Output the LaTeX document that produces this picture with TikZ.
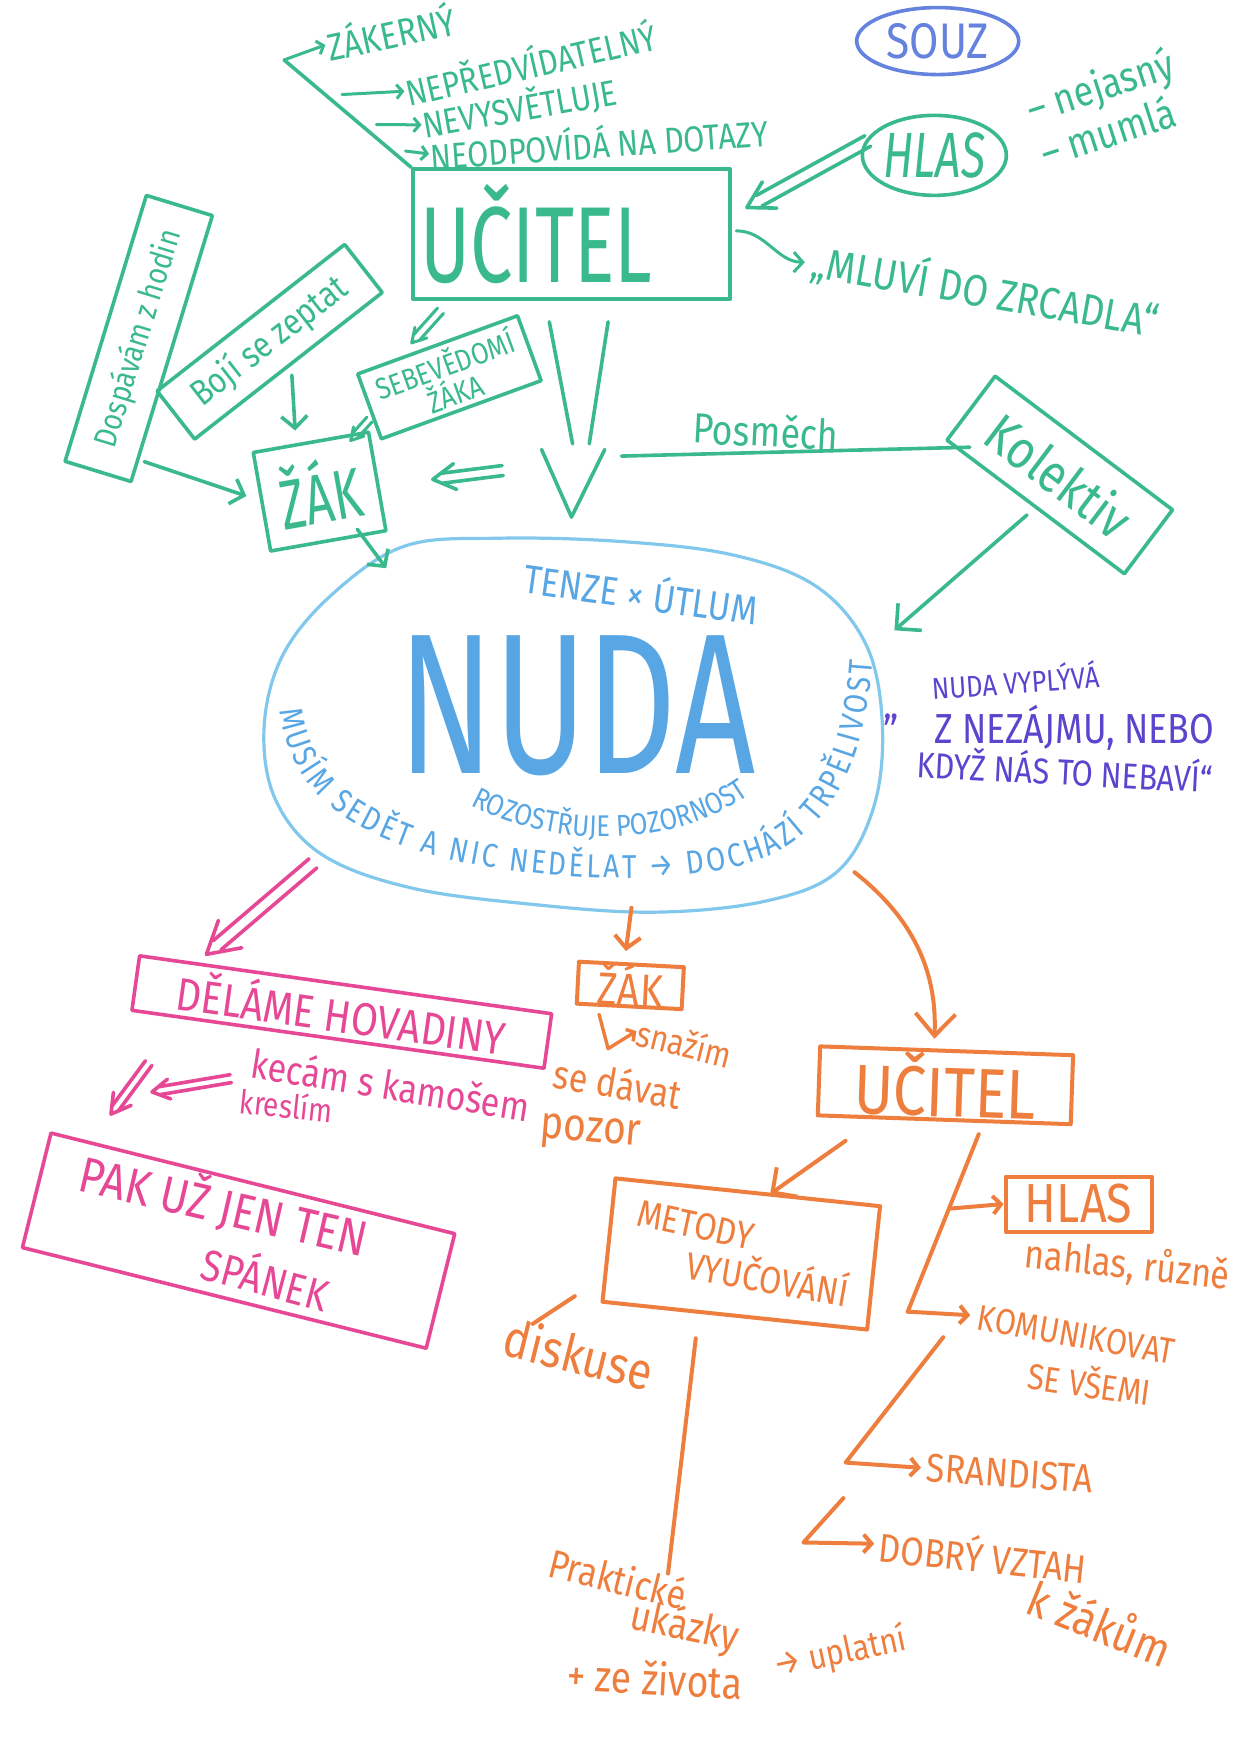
\documentclass[tikz,border=0pt]{standalone}
\usepackage{fontspec}
\setmainfont{Fira Sans}
\newfontfamily\hand[FakeStretch=0.85]{Fira Sans}
\newfontfamily\handn[FakeStretch=0.7]{Fira Sans}
\usetikzlibrary{arrows.meta,calc,shapes.geometric,decorations.text}

\definecolor{mgreen}{RGB}{58,186,140}
\definecolor{mblue}{RGB}{130,200,236}
\definecolor{mbluetxt}{RGB}{88,166,228}
\definecolor{msouz}{RGB}{100,130,222}
\definecolor{mpurple}{RGB}{92,68,206}
\definecolor{mpink}{RGB}{230,72,150}
\definecolor{morange}{RGB}{238,126,62}

\newcommand\hsz[1]{\fontsize{#1}{#1}\selectfont}
% hand-drawn double-shafted arrow: [style]{from}{to}{half gap}{head length}{shaft stop}
\newcommand\twinarrow[6][]{%
  \coordinate (twE) at ($(#3)!#6!(#2)$);
  \draw[#1] ($(#2)!#4!90:(#3)$) -- ($(twE)!#4!-90:(#2)$);
  \draw[#1] ($(#2)!#4!-90:(#3)$) -- ($(twE)!#4!90:(#2)$);
  \draw[#1] ($(#3)!#5!30:(#2)$) -- (#3) -- ($(#3)!#5!-30:(#2)$);
}

\begin{document}
\begin{tikzpicture}[x=1.1094pt, y=-1.1094pt,
  gline/.style={draw=mgreen, line width=3.6pt, line cap=round, line join=round},
  garrow/.style={gline, -{Straight Barb[length=12pt,width=26pt]}},
  gsmall/.style={gline, line width=3pt, -{Straight Barb[length=6pt,width=14pt]}},
  gbox/.style={draw=mgreen, line width=3.6pt, line join=round, text=mgreen, inner sep=0pt},
  gtext/.style={text=mgreen, inner sep=1pt, font=\hand\hsz{36}},
  pline/.style={draw=mpink, line width=3.6pt, line cap=round, line join=round},
  pbox/.style={draw=mpink, line width=3.6pt, line join=round, text=mpink, inner sep=0pt},
  ptext/.style={text=mpink, inner sep=1pt, font=\hand\hsz{34}},
  oline/.style={draw=morange, line width=4pt, line cap=round, line join=round},
  oarrow/.style={oline, -{Straight Barb[length=12pt,width=26pt]}},
  obox/.style={draw=morange, line width=4pt, line join=round, text=morange, inner sep=0pt},
  otext/.style={text=morange, inner sep=1pt, font=\hand\hsz{34}},
  qtext/.style={text=mpurple, inner sep=1pt, font=\hand\hsz{36}},
]
\fill[white] (0,0) rectangle (1115,1568);
\useasboundingbox (0,0) rectangle (1115,1568);

% ================= green: the teacher =================
\node[gbox, minimum width=317pt, minimum height=130pt, font=\handn\hsz{108}] (ucitel) at (515,211) {UČITEL\hspace*{70pt}};

\node[gtext, rotate=12, font=\hand\hsz{38}] (t1) at (352,28) {ZÁKERNÝ};
\node[gtext, rotate=13] (t2) at (478,56) {NEPŘEDVÍDATELNÝ};
\node[gtext, rotate=10] (t3) at (468,97) {NEVYSVĚTLUJE};
\node[gtext, rotate=4] (t4) at (540,128) {NEODPOVÍDÁ NA DOTAZY};
\coordinate (brA) at (256,54);
\coordinate (brB) at (ucitel.north west);
\draw[gline] (brA) -- (brB);
\draw[gsmall] (brA) -- (t1.west);
\draw[gsmall, shorten <=16pt] ($(brA)!0.33!(brB)$) -- (t2.west);
\draw[gsmall, shorten <=16pt] ($(brA)!0.6!(brB)$) -- (t3.west);
\draw[gsmall, shorten <=16pt] ($(brA)!0.83!(brB)$) -- (t4.west);

\node[gtext, rotate=-10, font=\hand\hsz{44}] (mluvi) at (888,262) {„MLUVÍ DO ZRCADLA“};
\draw[gline, line width=3pt, -{Straight Barb[length=9pt,width=20pt]}] ($(ucitel.east)+(4,-3)$) .. controls (690,208) and (700,236) .. ($(mluvi.west)+(-6,2)$);

\node[ellipse, draw=msouz, line width=3.6pt, text=msouz, minimum width=162pt, minimum height=67pt, inner sep=0pt, font=\hand\hsz{50}] (souz) at (845,37) {SOUZ};

\node[ellipse, gbox, minimum width=142pt, minimum height=80pt, font=\handn\itshape\hsz{64}] (hlas) at (842,140) {HLAS};
\node[gtext, rotate=18, font=\hand\hsz{42}] (nej) at (992,80) {– nejasný};
\node[gtext, rotate=18, font=\hand\hsz{42}] (mum) at (998,118) {– mumlá};
\coordinate (hlasW) at (782,127);
\coordinate (ucNE) at (673,187);
\twinarrow[gline]{hlasW}{ucNE}{6pt}{30pt}{14pt}

% ================= green: the pupil =================
\node[gbox, rotate=73, minimum width=278pt, minimum height=69pt, font=\hand\hsz{32}] (dosp) at (125,305) {Dospávám z hodin};
\node[gbox, rotate=38, minimum width=238pt, minimum height=61pt, font=\hand\hsz{36}] (boji) at (243,308) {Bojí se zeptat};
\node[gbox, rotate=20, minimum width=170pt, minimum height=69pt, align=center, font=\hand\hsz{30}] (sebe) at (405,340) {SEBEVĚDOMÍ\\ŽÁKA};
\node[gbox, rotate=10, minimum width=117pt, minimum height=100pt, font=\handn\hsz{70}] (zak) at (288,443) {ŽÁK};

\coordinate (dzA) at (130,416);
\coordinate (dzB) at (222,447);
\draw[garrow] (dzA) -- (dzB);
\coordinate (bzA) at (263,338);
\coordinate (bzB) at (266,388);
\draw[garrow] (bzA) -- (bzB);
\coordinate (usA) at (397,280);
\coordinate (usB) at (371,309);
\twinarrow[gline, line width=3pt]{usA}{usB}{4pt}{16pt}{8pt}
\coordinate (szA) at (333,378);
\coordinate (szB) at (316,397);
\twinarrow[gline, line width=3pt]{szA}{szB}{3.5pt}{14pt}{7pt}

% big arrow from the teacher down to boredom
\coordinate (vL1) at (495,290); \coordinate (vL2) at (516,400);
\coordinate (vR1) at (548,290); \coordinate (vR2) at (531,400);
\coordinate (vHL) at (488,405); \coordinate (vTip) at (515,466); \coordinate (vHR) at (545,405);
\draw[gline] (vL1) -- (vL2);
\draw[gline] (vR1) -- (vR2);
\draw[gline] (vHL) -- (vTip) -- (vHR);
\coordinate (vzA) at (453,424);
\coordinate (vzB) at (390,432);
\twinarrow[gline]{vzA}{vzB}{5pt}{26pt}{10pt}

% the class
\node[gbox, rotate=-37, minimum width=222pt, minimum height=80pt, font=\hand\hsz{54}] (kolektiv) at (955,428) {Kolektiv};
\coordinate (posL) at (560,411);
\coordinate (posR) at (874,403);
\draw[gline] (posL) -- (posR);
\node[gtext, rotate=-3, font=\hand\hsz{42}] (posmech) at (690,388) {Posměch};

% ================= boredom =================
\draw[draw=mblue, line width=3.2pt, line join=round] plot[smooth cycle, tension=0.6] coordinates {
  (365,492) (450,485) (560,488) (660,500) (735,528) (780,580) (795,650) (788,725)
  (755,785) (690,812) (590,822) (480,815) (370,800) (290,770) (248,720) (238,655)
  (255,590) (300,535)};
\node[ellipse, minimum width=621pt, minimum height=366pt] (nudaE) at (515,652) {};
\node[text=mbluetxt, inner sep=0pt, font=\handn\hsz{200}] (nuda) at (520,636) {NUDA};
\node[text=mbluetxt, rotate=-8, inner sep=1pt, font=\hand\hsz{40}] (tenze) at (578,533) {TENZE × ÚTLUM};
\path[decorate, decoration={text along path, text align=center,
  text={|\hand\hsz{30}\color{mbluetxt}|ROZOSTŘUJE POZORNOST}}]
  (402,712) .. controls (480,768) and (620,772) .. (695,700);
\path[decorate, decoration={text along path, text align={fit to path},
  text={|\hand\hsz{33}\color{mbluetxt}|MUSÍM SEDĚT A NIC NEDĚLAT → DOCHÁZÍ TRPĚLIVOST}}]
  (252,640) .. controls (260,702) and (298,742) .. (380,768)
  .. controls (470,794) and (620,802) .. (692,772)
  .. controls (752,744) and (780,684) .. (786,596);

\coordinate (zkA) at (322,477);
\coordinate (zkB) at (348,512);
\draw[garrow] (zkA) -- (zkB);
\coordinate (kolB) at (806,568);
\draw[garrow, -{Straight Barb[length=18pt,width=36pt]}, shorten <=10pt] (kolektiv.south) -- (kolB);

% quotation
\node[qtext, rotate=4, font=\hand\hsz{30}] (q1) at (915,613) {NUDA VYPLÝVÁ};
\node[qtext, font=\hand\hsz{44}] (q0) at (803,648) {„};
\node[qtext, font=\hand\hsz{42}] (q2) at (968,656) {Z NEZÁJMU, NEBO};
\node[qtext, rotate=-3, font=\hand\hsz{36}] (q3) at (960,693) {KDYŽ NÁS TO NEBAVÍ“};

% ================= pink branch =================
\coordinate (pnA) at (282,778);
\coordinate (pnB) at (186,860);
\twinarrow[pline]{pnA}{pnB}{6pt}{36pt}{14pt}
\node[pbox, rotate=-8, minimum width=416pt, minimum height=55pt, font=\hand\hsz{46}] (delame) at (308,912) {DĚLÁME HOVADINY};
\node[ptext, rotate=-9, font=\hand\hsz{40}] (kecam) at (352,977) {kecám s kamošem};
\node[ptext, rotate=-6, font=\hand\hsz{33}] (kreslim) at (258,996) {kreslím};
\coordinate (kcA) at (208,972);
\coordinate (kcB) at (137,984);
\twinarrow[pline]{kcA}{kcB}{4pt}{20pt}{8pt}
\coordinate (dpA) at (134,958);
\coordinate (dpB) at (100,1004);
\twinarrow[pline]{dpA}{dpB}{4pt}{22pt}{8pt}
\node[pbox, rotate=-14, minimum width=416pt, minimum height=118pt] (pak) at (215,1118) {};
\node[ptext, rotate=-13, font=\hand\hsz{50}] (pak1) at (202,1086) {PAK UŽ JEN TEN};
\node[ptext, rotate=-15, font=\hand\hsz{44}] (pak2) at (240,1150) {SPÁNEK};

% ================= orange branch =================
\coordinate (onA) at (569,818);
\coordinate (onB) at (564,857);
\draw[oarrow] (onA) -- (onB);
\node[obox, rotate=-3, minimum width=105pt, minimum height=42pt, font=\hand\hsz{46}] (ozak) at (568,888) {ŽÁK};
\coordinate (ozH) at (548,945);
\node[otext, rotate=-14, font=\hand\hsz{36}] (snaz) at (617,940) {snažím};
\draw[oline, line width=3.4pt, -{Straight Barb[length=6pt,width=14pt]}] ($(ozak.south west)+(22,8)$) -- (ozH) -- (snaz.west);
\node[otext, rotate=-10, font=\hand\hsz{40}] (seda) at (557,976) {se dávat};
\node[otext, rotate=-5, font=\hand\hsz{46}] (pozor) at (532,1022) {pozor};

\coordinate (ocA) at (770,786);
\coordinate (ocB) at (842,936);
\draw[oarrow, -{Straight Barb[length=22pt,width=40pt]}] (ocA) .. controls (816,822) and (845,868) .. (ocB);
\node[obox, rotate=-2, minimum width=253pt, minimum height=69pt, font=\hand\hsz{70}] (oucitel) at (852,978) {UČITEL};

\coordinate (omA) at (762,1028);
\coordinate (omB) at (694,1076);
\draw[oarrow, -{Straight Barb[length=18pt,width=36pt]}] (omA) -- (omB);
\node[obox, rotate=-6, minimum width=266pt, minimum height=124pt] (metody) at (668,1130) {};
\node[otext, rotate=-12, font=\hand\hsz{38}] (met1) at (627,1104) {METODY};
\node[otext, rotate=-10, font=\hand\hsz{38}] (met2) at (692,1150) {VYUČOVÁNÍ};

\node[obox, minimum width=146pt, minimum height=55pt, font=\hand\hsz{55}] (ohlas) at (972,1085) {HLAS};
\node[otext, rotate=-6, font=\hand\hsz{40}] (nahlas) at (1016,1140) {nahlas, různě};
\node[otext, rotate=-10, font=\hand\hsz{36}] (komu) at (970,1203) {KOMUNIKOVAT};
\node[otext, rotate=-8, font=\hand\hsz{36}] (vsemi) at (982,1245) {SE VŠEMI};
\node[otext, rotate=-4, font=\hand\hsz{40}] (sran) at (910,1328) {SRANDISTA};
\node[otext, rotate=-6, font=\hand\hsz{40}] (dobry) at (886,1401) {DOBRÝ VZTAH};
\node[otext, rotate=-22, font=\hand\hsz{48}] (kzak) at (992,1462) {k žákům};

\coordinate (tr1) at (882,1022);
\coordinate (tr2) at (818,1182);
\draw[oline] (tr1) -- (tr2);
\draw[oarrow, -{Straight Barb[length=8pt,width=18pt]}] (tr2) -- ($(komu.west)+(-6,-2)$);
\draw[oarrow, -{Straight Barb[length=8pt,width=18pt]}] ($(tr1)!0.42!(tr2)$) -- (ohlas.west);
\coordinate (tr3) at (850,1205);
\coordinate (tr4) at (762,1318);
\draw[oarrow, -{Straight Barb[length=8pt,width=18pt]}] (tr3) -- (tr4) -- ($(sran.west)+(-4,0)$);
\coordinate (tr5) at (760,1350);
\coordinate (tr6) at (724,1390);
\draw[oarrow, -{Straight Barb[length=8pt,width=18pt]}] (tr5) -- (tr6) -- ($(dobry.west)+(-4,0)$);

\node[otext, rotate=-14, font=\hand\hsz{52}] (disk) at (522,1220) {diskuse};
\coordinate (mdA) at (518,1168);
\coordinate (mdB) at (480,1193);
\draw[oline] (mdA) -- (mdB);
\coordinate (mpA) at (627,1206);
\coordinate (mpB) at (602,1418);
\draw[oline] (mpA) -- (mpB);
\node[otext, rotate=-14, font=\hand\hsz{40}] (prak) at (557,1422) {Praktické};
\node[otext, rotate=-12, font=\hand\hsz{42}] (ukaz) at (617,1467) {ukázky};
\node[otext, rotate=-3, font=\hand\hsz{44}] (zziv) at (590,1512) {+ ze života};
\node[otext, rotate=12, font=\hand\hsz{36}] (upl) at (757,1490) {→ uplatní};
\end{tikzpicture}
\end{document}
